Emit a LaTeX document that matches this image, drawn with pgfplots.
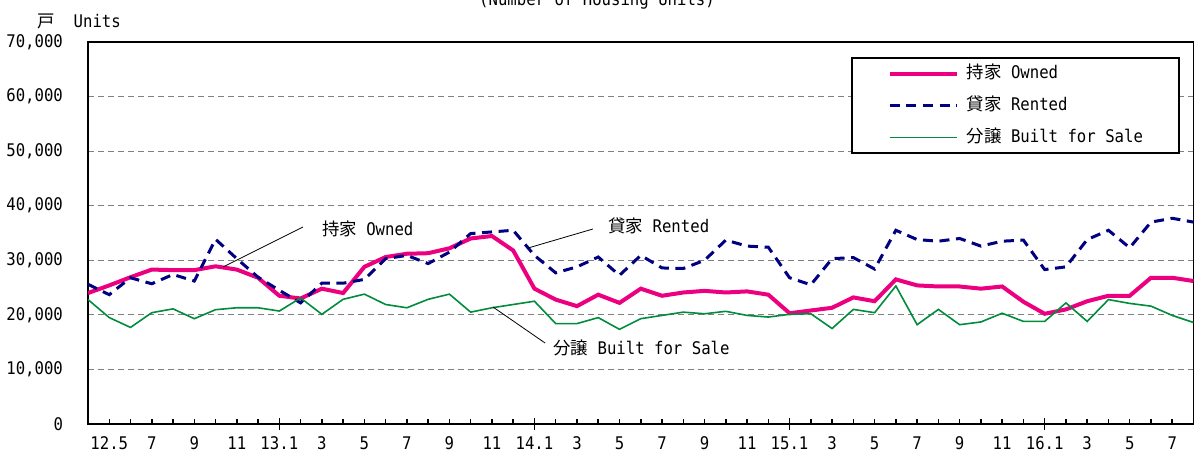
\documentclass[border=0pt]{standalone}
\usepackage{fontspec}
\usepackage{pgfplots}
\usepackage{pgfplotstable}
\pgfplotsset{compat=1.18}
\setmainfont[FakeStretch=0.9]{DejaVu Sans Mono}
\newfontfamily\jp{Noto Sans CJK JP}
\definecolor{ownedc}{RGB}{236,0,127}
\definecolor{rentc}{RGB}{0,0,128}
\definecolor{salec}{RGB}{0,140,60}
\newcommand{\fs}{\fontsize{8.7}{10}\selectfont}

\pgfplotstableread{
i owned rented sale
0 24000 25600 22800
1 25400 23700 19500
2 26900 26800 17700
3 28300 25700 20400
4 28200 27400 21100
5 28200 26200 19300
6 28900 33850 20950
7 28300 30300 21300
8 26800 26900 21300
9 23500 24500 20700
10 23000 22200 23100
11 24800 25800 20100
12 24000 25800 22850
13 28800 26500 23800
14 30600 30300 21900
15 31200 30900 21300
16 31300 29400 22850
17 32200 31500 23800
18 34000 34900 20500
19 34450 35200 21300
20 31800 35500 21900
21 24800 30900 22500
22 22800 27700 18400
23 21600 28800 18400
24 23700 30600 19500
25 22200 27250 17350
26 24800 30900 19300
27 23500 28600 19900
28 24100 28500 20500
29 24400 30000 20200
30 24100 33700 20650
31 24300 32600 19900
32 23700 32400 19600
33 20300 26800 20100
34 20800 25500 20200
35 21300 30300 17500
36 23200 30500 21000
37 22500 28400 20400
38 26500 35500 25300
39 25400 33800 18200
40 25200 33500 21000
41 25200 34000 18200
42 24800 32600 18700
43 25200 33500 20300
44 22400 33700 18800
45 20200 28300 18800
46 21000 28800 22200
47 22500 33800 18800
48 23500 35500 22800
49 23500 32300 22100
50 26800 37000 21600
51 26800 37700 19900
52 26200 37000 18600
}\data

\begin{document}
\begin{tikzpicture}
\begin{axis}[
  scale only axis, width=552.75pt, height=191pt,
  at={(0pt,0pt)}, anchor=south west,
  xmin=0, xmax=52, ymin=0, ymax=70000,
  scaled y ticks=false, scaled x ticks=false,
  axis line style={line width=1pt},
  font=\fs,
  xtick={1,...,52},
  xticklabels={12.5,,7,,9,,11,,13.1,,3,,5,,7,,9,,11,,14.1,,3,,5,,7,,9,,11,,15.1,,3,,5,,7,,9,,11,,16.1,,3,,5,,7,},
  xtick pos=bottom, ytick pos=left,
  xtick align=inside,
  xtick style={black, line width=0.75pt},
  major tick length=2.5pt,
  extra x ticks={9,21,33,45},
  extra x tick labels={},
  extra x tick style={xtick align=center, major tick length=6pt},
  ytick={0,10000,...,70000},
  yticklabels={0,{10,000},{20,000},{30,000},{40,000},{50,000},{60,000},{70,000}},
  ytick style={draw=none},
  yticklabel style={font=\fs, xshift=-9pt},
  xticklabel style={font=\fs, yshift=-3pt},
  ymajorgrids,
  grid style={gray, line width=0.6pt, dash pattern=on 3pt off 2pt},
  legend image code/.code={\draw[#1] (0pt,0pt) -- (33.5pt,0pt);},
  legend cell align=left,
  legend style={at={(rel axis cs:1,1)}, anchor=north east, xshift=-6.75pt, yshift=-7.5pt,
    draw=black, line width=1pt, font=\fs, inner xsep=18pt, inner ysep=3.5pt,
    row sep=7.5pt,
    nodes={inner sep=0pt, text height=6.5pt, text depth=2pt},
    /tikz/every odd column/.append style={column sep=4pt}},
]
\addplot[ownedc, line width=2pt] table[x=i, y=owned] {\data};
\addlegendentry{{\jp 持家} Owned}
\addplot[rentc, line width=1.5pt, dash pattern=on 5pt off 3.3pt] table[x=i, y=rented] {\data};
\addlegendentry{{\jp 貸家} Rented}
\addplot[salec, line width=0.8pt] table[x=i, y=sale] {\data};
\addlegendentry{{\jp 分譲} Built for Sale}

\draw[line width=0.4pt] (axis cs:6.35,28771) -- (axis cs:10.11,36100);
\node[anchor=west, inner sep=0pt, font=\fs] at (axis cs:10.99,35734) {{\jp 持家} Owned};
\draw[line width=0.4pt] (axis cs:20.70,32252) -- (axis cs:23.75,35734);
\node[anchor=west, inner sep=0pt, font=\fs] at (axis cs:24.46,36284) {{\jp 貸家} Rented};
\draw[line width=0.4pt] (axis cs:19.05,21440) -- (axis cs:21.50,14843);
\node[anchor=west, inner sep=0pt, font=\fs] at (axis cs:21.87,13927) {{\jp 分譲} Built for Sale};
\end{axis}
\node[anchor=base west, inner sep=0pt, font=\fs] at (-25.5pt,198.5pt) {{\jp 戸}\ \ Units};
\node[anchor=base, inner sep=0pt, font=\fs] at (254.5pt,209.5pt) {(Number of Housing Units)};
\pgfresetboundingbox
\path[use as bounding box] (-44pt,-14pt) rectangle (553pt,212pt);
\end{tikzpicture}
\end{document}
